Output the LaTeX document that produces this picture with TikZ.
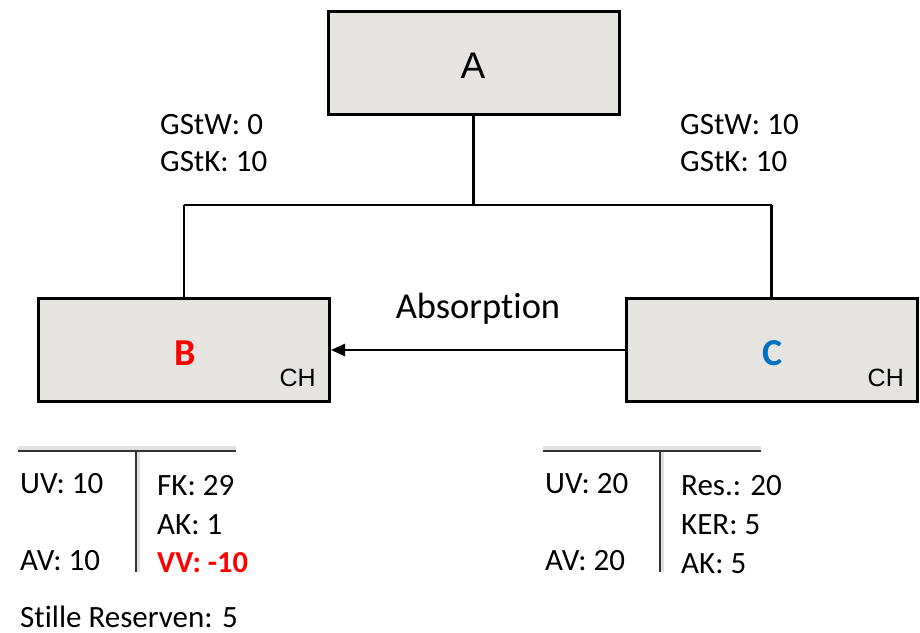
\documentclass[tikz,border=0pt]{standalone}
\usepackage{fontspec}
\setmainfont{Carlito}[Ligatures={NoCommon}]
\newfontfamily\arialfont{Liberation Sans}
\usetikzlibrary{arrows.meta}
\definecolor{boxfill}{HTML}{E5E4E0}
\definecolor{bred}{HTML}{FF0000}
\definecolor{cblue}{HTML}{0070C0}
\begin{document}
\begin{tikzpicture}[x=1pt,y=-1pt,
  entity/.style={draw=black,line width=3pt,fill=boxfill,minimum width=291pt,minimum height=103pt,inner sep=0pt},
  conn/.style={line width=2.5pt,draw=black},
  lbl/.style={anchor=base west,inner sep=0pt,font=\fontsize{31}{36}\selectfont},
  tline/.style={line width=1.6pt,draw=black!80},
  tshadow/.style={line width=4pt,draw=black!12},
  tag/.style={anchor=base east,inner sep=0pt,font=\arialfont\fontsize{25}{30}\selectfont}
]
\useasboundingbox (0,0) rectangle (920,632);
% boxes
\node[entity] (A) at (473.5,63) {};
\node[entity] (B) at (184,350) {};
\node[entity] (C) at (771.5,350) {};
\node[anchor=base,inner sep=0pt,font=\arialfont\fontsize{37}{44}\selectfont] (Atext) at (473,78) {A};
\node[anchor=base,inner sep=0pt,font=\bfseries\fontsize{38}{44}\selectfont,text=bred] (Btext) at (185,365) {B};
\node[anchor=base,inner sep=0pt,font=\bfseries\fontsize{38}{44}\selectfont,text=cblue] (Ctext) at (773,365) {C};
\node[tag] (Bch) at (316,386) {CH};
\node[tag] (Cch) at (904,386) {CH};
% tree connectors
\coordinate (J) at (473.5,205);
\coordinate (JL) at (184,205);
\coordinate (JR) at (771.5,205);
\draw[conn] (A.south) -- (J);
\draw[conn] (JL) -- (JR);
\draw[conn] (JL) -- (B.north);
\draw[conn] (JR) -- (C.north);
% absorption arrow
\draw[conn,-{Triangle[length=14pt,width=12pt]}] (C.west) -- (B.east);
\node[anchor=base,inner sep=0pt,font=\fontsize{36.5}{42}\selectfont] (abs) at (478,318) {Absorption};
% GSt labels
\node[lbl] (g1) at (160,134) {GStW: 0};
\node[lbl] (g2) at (160,171) {GStK: 10};
\node[lbl] (g3) at (680,134) {GStW: 10};
\node[lbl] (g4) at (680,171) {GStK: 10};
% T-account B
\coordinate (tl1) at (18,451); \coordinate (tl2) at (236,451);
\coordinate (tl3) at (136,451); \coordinate (tl4) at (136,572);
\draw[tshadow] ([yshift=3pt]tl1) -- ([yshift=3pt]tl2);
\draw[tshadow] ([xshift=2pt]tl3) -- ([xshift=2pt]tl4);
\draw[tline] (tl1) -- (tl2);
\draw[tline] (tl3) -- (tl4);
\node[lbl] (uv1) at (20,493) {UV: 10};
\node[lbl] (av1) at (20,570) {AV: 10};
\node[lbl] (fk1) at (157,495) {FK: 29};
\node[lbl] (ak1) at (157,534) {AK: 1};
\node[lbl,text=bred,font=\bfseries\fontsize{30.5}{36}\selectfont] (vv1) at (157,572) {VV: -10};
\node[lbl] (sr) at (20,627) {Stille Reserven: 5};
% T-account C
\coordinate (tr1) at (543,451); \coordinate (tr2) at (761,451);
\coordinate (tr3) at (660,451); \coordinate (tr4) at (660,572);
\draw[tshadow] ([yshift=3pt]tr1) -- ([yshift=3pt]tr2);
\draw[tshadow] ([xshift=2pt]tr3) -- ([xshift=2pt]tr4);
\draw[tline] (tr1) -- (tr2);
\draw[tline] (tr3) -- (tr4);
\node[lbl] (uv2) at (545,493) {UV: 20};
\node[lbl] (av2) at (545,570) {AV: 20};
\node[lbl] (res2) at (681,495) {Res.: 20};
\node[lbl] (ker2) at (681,534) {KER: 5};
\node[lbl] (ak2) at (681,573) {AK: 5};
\end{tikzpicture}
\end{document}
